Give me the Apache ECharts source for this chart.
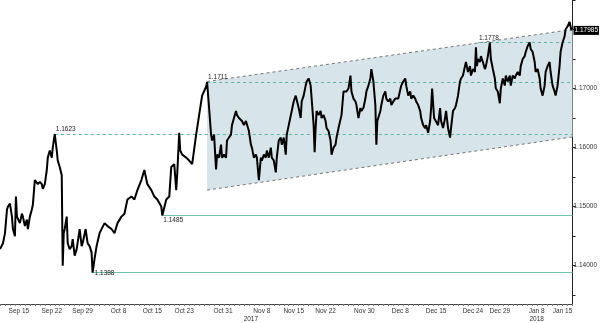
<!DOCTYPE html>
<html>
<head>
<meta charset="utf-8">
<script src="https://cdn.jsdelivr.net/npm/echarts@6/dist/echarts.min.js"></script>
<style>
  html, body { margin: 0; padding: 0; background: #fff; }
  #chart { width: 600px; height: 323px; }
</style>
</head>
<body>
<div id="chart"></div>
<script>
// Price trace: [time (sample units), price]
const trace = [
  [0, 1.1428], [0.9, 1.1438], [1.5, 1.1455], [2.1, 1.1495], [2.4, 1.1500], [3.0, 1.1505],
  [3.6, 1.1483], [3.9, 1.1462], [4.5, 1.1450], [4.8, 1.1517], [5.1, 1.1483], [6.0, 1.1472],
  [6.6, 1.1488], [6.9, 1.1483], [7.5, 1.1467], [8.1, 1.1478], [8.4, 1.1462], [9.0, 1.1483],
  [9.6, 1.1495], [9.9, 1.1503], [10.5, 1.1545], [11.1, 1.1545], [11.4, 1.1538], [12.0, 1.1542],
  [12.6, 1.1538], [12.9, 1.1530], [13.5, 1.1538], [14.1, 1.1562], [14.4, 1.1583], [15.0, 1.1595],
  [15.6, 1.1583], [15.9, 1.1600], [16.5, 1.1623], [17.1, 1.1595], [17.4, 1.1578], [18.0, 1.1567],
  [18.6, 1.1553], [18.9, 1.1400], [19.2, 1.1455], [19.5, 1.1462], [20.1, 1.1483], [20.4, 1.1438],
  [21.0, 1.1428], [21.6, 1.1433], [21.9, 1.1445], [22.5, 1.1417], [23.1, 1.1428], [24.0, 1.1462],
  [24.6, 1.1433], [24.9, 1.1438], [25.8, 1.1462], [26.4, 1.1438], [27.0, 1.1433], [27.6, 1.1422],
  [27.9, 1.1388], [28.5, 1.1412], [29.1, 1.1433], [30.0, 1.1455],
  [31.5, 1.1472], [32.4, 1.1467], [33.6, 1.1462], [34.5, 1.1455], [35.4, 1.1472], [36.6, 1.1483],
  [37.5, 1.1488], [38.4, 1.1512], [39.6, 1.1517], [40.5, 1.1512], [41.4, 1.1528], [42.6, 1.1545],
  [43.5, 1.1562], [44.4, 1.1538], [45.6, 1.1528], [46.5, 1.1517], [47.4, 1.1512], [48.6, 1.1500],
  [48.9, 1.1485], [50.1, 1.1512], [51.0, 1.1517], [51.6, 1.1567], [52.5, 1.1572], [53.1, 1.1528],
  [53.4, 1.1555], [54.0, 1.1625], [54.3, 1.1595], [54.9, 1.1588], [56.1, 1.1583], [57.0, 1.1578],
  [57.9, 1.1572], [59.1, 1.1622], [60.0, 1.1655], [60.9, 1.1688], [62.1, 1.1703], [62.4, 1.1711],
  [63.0, 1.1667], [63.6, 1.1622], [63.9, 1.1612], [64.5, 1.1622], [65.1, 1.1563], [65.4, 1.1588],
  [66.0, 1.1583], [66.6, 1.1605], [66.9, 1.1583], [67.5, 1.1588], [68.1, 1.1583], [68.4, 1.1612],
  [69.0, 1.1617], [69.6, 1.1622], [69.9, 1.1638], [70.5, 1.1650], [71.1, 1.1662], [71.4, 1.1655],
  [72.0, 1.1650], [72.6, 1.1653], [72.9, 1.1645], [73.5, 1.1638], [74.1, 1.1645], [75.0, 1.1628],
  [75.6, 1.1605], [75.9, 1.1600], [76.5, 1.1583], [77.1, 1.1588], [77.4, 1.1583], [78.0, 1.1545],
  [78.6, 1.1583], [78.9, 1.1578], [79.5, 1.1588], [80.1, 1.1583], [80.4, 1.1595], [81.0, 1.1583],
  [81.6, 1.1600], [81.9, 1.1583], [82.5, 1.1578], [83.1, 1.1558], [83.4, 1.1583], [84.0, 1.1612],
  [84.6, 1.1617], [84.9, 1.1605], [85.5, 1.1617], [86.1, 1.1588], [86.4, 1.1622], [87.0, 1.1638],
  [87.9, 1.1662], [88.5, 1.1678], [89.1, 1.1688], [90.0, 1.1667],
  [90.6, 1.1650], [90.9, 1.1678], [91.5, 1.1688], [92.1, 1.1705], [92.4, 1.1712], [93.0, 1.1717],
  [93.6, 1.1705], [93.9, 1.1683], [94.5, 1.1638], [94.8, 1.1592], [95.1, 1.1633], [95.4, 1.1662],
  [96.0, 1.1655], [96.6, 1.1662], [96.9, 1.1650], [97.5, 1.1655], [98.1, 1.1645], [98.4, 1.1633],
  [99.0, 1.1628], [99.6, 1.1612], [99.9, 1.1588], [100.5, 1.1600], [101.1, 1.1605], [101.4, 1.1617],
  [102.0, 1.1633], [102.6, 1.1633], [102.9, 1.1655], [103.5, 1.1695], [104.1, 1.1695], [104.4, 1.1695],
  [105.0, 1.1700], [105.6, 1.1722], [105.9, 1.1695], [106.5, 1.1683], [107.1, 1.1678], [107.4, 1.1672],
  [108.0, 1.1650], [108.6, 1.1667], [108.9, 1.1662], [109.5, 1.1667], [110.1, 1.1683], [110.4, 1.1695],
  [111.0, 1.1705], [111.6, 1.1717], [111.9, 1.1733], [112.5, 1.1712], [113.1, 1.1672], [113.4, 1.1605],
  [113.7, 1.1645], [114.6, 1.1662], [114.9, 1.1672], [115.5, 1.1688], [116.1, 1.1695], [116.4, 1.1683],
  [117.0, 1.1678], [117.6, 1.1683], [117.9, 1.1672], [118.5, 1.1678], [119.1, 1.1683], [120.0, 1.1683],
  [120.9, 1.1705], [121.5, 1.1712], [122.1, 1.1717], [122.4, 1.1705], [123.0, 1.1688], [123.6, 1.1695],
  [123.9, 1.1683], [124.5, 1.1688], [125.1, 1.1683], [125.4, 1.1678], [126.0, 1.1672], [126.6, 1.1662],
  [126.9, 1.1650], [127.5, 1.1638], [128.1, 1.1633], [128.4, 1.1638], [129.0, 1.1625], [129.6, 1.1645],
  [129.9, 1.1667], [130.2, 1.1700], [130.8, 1.1650], [131.4, 1.1650], [132.0, 1.1638], [132.6, 1.1667],
  [132.9, 1.1645], [133.5, 1.1633], [134.1, 1.1650], [134.4, 1.1662], [135.0, 1.1633], [135.6, 1.1617],
  [135.9, 1.1633], [136.5, 1.1662], [137.1, 1.1667], [137.4, 1.1672], [138.0, 1.1688], [138.6, 1.1712],
  [138.9, 1.1717], [139.5, 1.1722], [140.1, 1.1738], [140.4, 1.1745], [141.0, 1.1728], [141.6, 1.1738],
  [141.9, 1.1722], [142.5, 1.1733], [143.1, 1.1728], [143.4, 1.1770], [143.7, 1.1738], [144.0, 1.1750],
  [144.6, 1.1745], [144.9, 1.1755], [145.5, 1.1745], [146.1, 1.1733], [146.4, 1.1738], [147.0, 1.1755],
  [147.6, 1.1778], [147.9, 1.1750], [148.5, 1.1733], [149.1, 1.1717], [149.4, 1.1700], [150.0, 1.1695],
  [150.6, 1.1675], [150.9, 1.1700], [151.5, 1.1717], [152.1, 1.1705], [152.4, 1.1722], [153.0, 1.1712],
  [153.6, 1.1722], [153.9, 1.1705], [154.5, 1.1722], [155.1, 1.1717], [155.4, 1.1722], [156.0, 1.1728],
  [156.6, 1.1722], [156.9, 1.1738], [157.5, 1.1750], [158.1, 1.1755], [158.4, 1.1762], [159.0, 1.1772],
  [159.6, 1.1778], [159.9, 1.1767], [160.5, 1.1762], [161.1, 1.1745], [161.4, 1.1728], [162.0, 1.1733],
  [162.6, 1.1717], [162.9, 1.1700], [163.5, 1.1688], [164.1, 1.1705], [164.4, 1.1728], [165.0, 1.1738],
  [165.6, 1.1745], [165.9, 1.1728], [166.5, 1.1705], [167.1, 1.1695], [167.4, 1.1688], [168.0, 1.1705],
  [168.6, 1.1738], [168.9, 1.1762], [169.5, 1.1778], [170.1, 1.1788], [170.4, 1.1800], [171.0, 1.1805],
  [171.6, 1.1813], [172.2, 1.17985]
];
const endTime = 172.5;

// Date labels along the bottom and where they sit (same time units)
const tickLabels = ['Sep 15', 'Sep 22', 'Sep 29', 'Oct 8', 'Oct 15', 'Oct 23', 'Oct 31', 'Nov 8',
  'Nov 15', 'Nov 22', 'Nov 30', 'Dec 8', 'Dec 15', 'Dec 24', 'Dec 29', 'Jan 8', 'Jan 15'];
const tickTimes = [5.7, 15.6, 24.9, 35.7, 45.9, 55.5, 67.2, 78.9, 88.5, 98.1, 109.8, 120.6, 131.4, 142.5, 150.6, 161.7, 169.5];
const yearLabels = { 'Nov 8': '2017', 'Jan 8': '2018' };

// Horizontal support / resistance levels
const levelValues = [1.1623, 1.1711, 1.1778, 1.1485, 1.1388];
const levelStart = [16.5, 62.4, 144, 48.9, 27.9];
const levelDashed = [true, true, true, false, false];

// Rising channel
const channelTimes = [62.4, 172.5];
const channelTop = [1.1712, 1.1800];
const channelBottom = [1.1528, 1.1618];

const yLabelValues = [1.14, 1.15, 1.16, 1.17];

const last = trace[trace.length - 1];

const chart = echarts.init(document.getElementById('chart'));

const fontFamily = '"Liberation Sans", Arial, sans-serif';
const teal = '#5fb3a0';
const tealLight = '#72c2b0';

const xTicks = [];
for (let t = 0; t <= endTime; t += 1.5) xTicks.push(t);
const yTicks = [];
for (let k = 0; k <= 10; k++) yTicks.push(+(1.135 + k * 0.005).toFixed(3));

const levelLines = levelValues.map((v, k) => [
  {
    coord: [levelStart[k], v],
    lineStyle: {
      color: levelDashed[k] ? teal : tealLight,
      type: levelDashed[k] ? [3, 3] : 'solid',
      width: 1
    },
    label: {
      show: true,
      formatter: v.toFixed(4),
      position: k === 3 ? 'insideStartBottom' : (k === 4 ? 'insideStart' : 'insideStartTop'),
      distance: k === 4 ? [2, -1] : [1, 1],
      color: '#222',
      fontSize: 6.5,
      fontFamily
    }
  },
  { coord: [endTime, v] }
]);

chart.setOption({
  animation: false,
  backgroundColor: '#fff',
  grid: { left: 0, right: 25, top: 0, bottom: 14 },
  xAxis: {
    type: 'value',
    min: 0,
    max: endTime,
    splitLine: { show: false },
    axisLine: { show: true, onZero: false, lineStyle: { color: '#444', width: 1 } },
    axisTick: { show: true, customValues: xTicks, length: 2, lineStyle: { color: '#777' } },
    axisLabel: {
      customValues: tickTimes,
      margin: 3,
      color: '#333',
      fontSize: 6.5,
      fontFamily,
      lineHeight: 8,
      formatter: (v) => {
        const i = tickTimes.findIndex((t) => Math.abs(t - v) < 1e-6);
        const name = tickLabels[i] || '';
        if (!yearLabels[name]) return name;
        return name + '\n{' + (name === 'Nov 8' ? 'yl' : 'y') + '|' + yearLabels[name] + '}';
      },
      rich: {
        y: { fontSize: 6.5, fontFamily, color: '#333' },
        yl: { fontSize: 6.5, fontFamily, color: '#333', padding: [0, 22, 0, 0] }
      }
    }
  },
  yAxis: {
    type: 'value',
    position: 'right',
    min: 1.1335,
    max: 1.185,
    splitLine: { show: false },
    axisLine: { show: true, onZero: false, lineStyle: { color: '#222', width: 1 } },
    axisTick: { show: true, customValues: yTicks, length: 3, lineStyle: { color: '#222' } },
    axisLabel: {
      customValues: yLabelValues,
      margin: 1,
      color: '#333',
      fontSize: 6.5,
      fontFamily,
      formatter: (v) => v.toFixed(5)
    }
  },
  series: [
    {
      type: 'custom',
      silent: true,
      z: 1,
      data: [[channelTimes[0], channelTop[0]]],
      renderItem: (params, api) => {
        const top = channelTimes.map((x, k) => api.coord([x, channelTop[k]]));
        const bot = channelTimes.map((x, k) => api.coord([x, channelBottom[k]]));
        return {
          type: 'group',
          children: [
            { type: 'polygon', shape: { points: [top[0], top[1], bot[1], bot[0]] }, style: { fill: '#d7e4ea' } },
            { type: 'polyline', shape: { points: top }, style: { stroke: '#777', lineWidth: 1, lineDash: [3, 3], fill: null } },
            { type: 'polyline', shape: { points: bot }, style: { stroke: '#777', lineWidth: 1, lineDash: [3, 3], fill: null } }
          ]
        };
      }
    },
    {
      type: 'line',
      z: 3,
      showSymbol: false,
      data: trace,
      lineStyle: { color: '#000', width: 2 },
      markLine: {
        silent: true,
        symbol: 'none',
        animation: false,
        z: 2,
        data: levelLines
      },
      markPoint: {
        silent: true,
        symbol: 'rect',
        symbolSize: 0,
        data: [{
          coord: [endTime, last[1]],
          label: {
            show: true,
            position: 'right',
            distance: 1,
            formatter: last[1].toFixed(5),
            backgroundColor: '#000',
            color: '#fff',
            fontSize: 6.5,
            fontFamily,
            padding: [1, 1]
          }
        }]
      }
    }
  ]
});
</script>
</body>
</html>
